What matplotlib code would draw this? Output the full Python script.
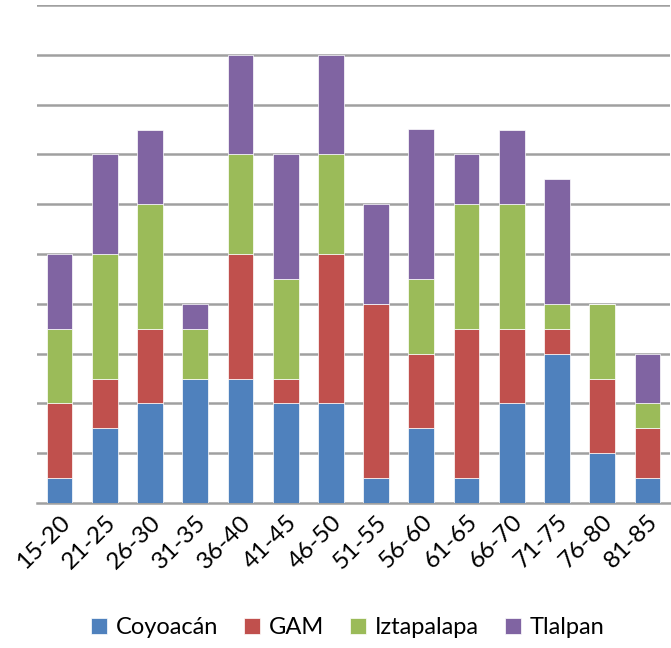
import matplotlib
matplotlib.use("Agg")
import matplotlib.pyplot as plt
import numpy as np

categories = ["15-20", "21-25", "26-30", "31-35", "36-40", "41-45", "46-50",
              "51-55", "56-60", "61-65", "66-70", "71-75", "76-80", "81-85"]
coyoacan = [1, 3, 4, 5, 5, 4, 4, 1, 3, 1, 4, 6, 2, 1]
gam = [3, 2, 3, 0, 5, 1, 6, 7, 3, 6, 3, 1, 3, 2]
iztapalapa = [3, 5, 5, 2, 4, 4, 4, 0, 3, 5, 5, 1, 3, 1]
tlalpan = [3, 4, 3, 1, 4, 5, 4, 4, 6, 2, 3, 5, 0, 2]
series_names = ["Coyoacán", "GAM", "Iztapalapa", "Tlalpan"]
colors = ["#4F81BD", "#C0504D", "#9BBB59", "#8064A2"]

plt.rcParams['font.family'] = ['Lato', 'DejaVu Sans']

fig = plt.figure(figsize=(6.71, 6.48), dpi=100)
ax = fig.add_axes([37/671, 1-503/648, 633/671, 498/648])

x = np.arange(len(categories))
bottom = np.zeros(len(categories))
handles = []
for vals, name, c in zip([coyoacan, gam, iztapalapa, tlalpan], series_names, colors):
    b = ax.bar(x, vals, bottom=bottom, width=0.57, color=c, edgecolor='white',
               linewidth=0.5, label=name, zorder=3)
    bottom += np.array(vals)
    handles.append(b)

ax.set_xlim(-0.5, len(categories) - 0.5)
ax.set_ylim(0, 20)
ax.set_yticks(np.arange(2, 21, 2))
ax.yaxis.grid(True, color='#A0A0A0', linewidth=1.8, zorder=0)
ax.tick_params(axis='y', length=0, labelleft=False)
ax.tick_params(axis='x', length=0, pad=6)
for s in ['left', 'right', 'top']:
    ax.spines[s].set_visible(False)
ax.spines['bottom'].set_color('#A0A0A0')
ax.spines['bottom'].set_linewidth(1.8)
ax.set_xticks(x)
ax.set_xticklabels(categories, rotation=45, ha='right', rotation_mode='anchor',
                   fontsize=17.5)

fig.legend(handles=handles, labels=series_names, loc='center',
           bbox_to_anchor=(348/671, 1-628/648), ncol=4, frameon=False,
           fontsize=17, handlelength=0.65, handleheight=0.65, columnspacing=1.1,
           handletextpad=0.4)

fig.savefig("out.png", dpi=100)
